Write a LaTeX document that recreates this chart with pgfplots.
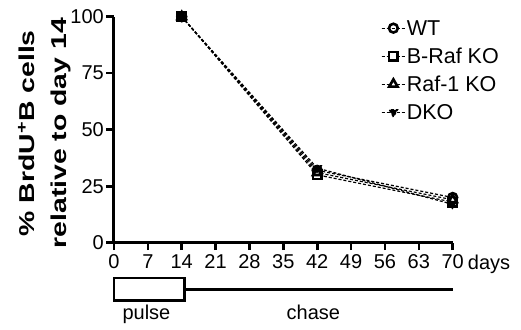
\documentclass[border=0pt]{standalone}
\usepackage{graphicx}
\usepackage{pgfplots}
\pgfplotsset{compat=1.18}
\usepackage{fontspec}
\setmainfont{Liberation Sans}
\newcommand{\lgf}{\fontsize{21.5}{24}\selectfont}
\begin{document}
\begin{tikzpicture}
\useasboundingbox (-114pt,-86.3pt) rectangle (407pt,242.7pt);
\begin{axis}[
  scale only axis, width=338.7pt, height=226pt,
  xmin=0, xmax=70, ymin=0, ymax=100,
  axis lines*=left, axis line style={line width=3pt},
  xtick={0,7,...,70}, ytick={0,25,50,75,100},
  tick align=outside, major tick length=7.5pt,
  tick style={line width=2.6pt, black},
  ticklabel style={font=\fontsize{20}{22}\selectfont},
  /pgf/number format/assume math mode=true,
  xticklabel style={inner sep=1pt, yshift=-3pt},
  yticklabel style={inner sep=1.5pt, xshift=-1pt},
  clip=false,
  ylabel={\scalebox{1.32}[1]{\% BrdU\textsuperscript{+}B cells}\\\scalebox{1.32}[1]{relative to day 14}},
  ylabel style={font=\bfseries\fontsize{21.5}{32}\selectfont, align=center, at={(axis description cs:-0.205,0.484)}, anchor=center},
  legend style={draw=none, fill=none, at={(axis description cs:0.788,0.99)}, anchor=north west,
    font=\lgf, row sep=10pt, inner sep=0pt, column sep=0pt,
    nodes={inner sep=1.5pt, text height=15pt, text depth=0pt}},
  legend cell align=left,
  legend image code/.code={
    \draw[densely dashed, line width=1pt] (0pt,0pt) -- (23pt,0pt);
    \draw[mark repeat=2, mark phase=2] plot coordinates {(0pt,0pt) (11.7pt,0pt) (23pt,0pt)};
  },
  every axis plot/.append style={black, line width=1.2pt, densely dashed, mark options={solid, line width=2.6pt, fill=white}},
]
\addplot[mark=o, mark size=4.4pt] coordinates {(14,100) (42,32) (70,20)};
\addlegendentry{WT}
\addplot[mark=square*, mark size=4.2pt] coordinates {(14,100) (42,30) (70,18)};
\addlegendentry{B-Raf KO}
\addplot[mark=triangle*, mark size=4.8pt] coordinates {(14,100) (42,31) (70,19)};
\addlegendentry{Raf-1 KO}
\addplot[mark=triangle*, mark size=4.8pt, mark options={rotate=180}] coordinates {(14,100) (42,33) (70,17)};
\addlegendentry{DKO}
\node[anchor=base west, font=\fontsize{20}{22}\selectfont, inner sep=0pt] at (axis cs:73.1,-12.0) {days};
\draw[line width=2.8pt] (axis cs:0,-15.6) rectangle (axis cs:14.6,-25.6);
\draw[line width=2.8pt] (axis cs:14.6,-20.6) -- (axis cs:70,-20.6);
\node[anchor=base, font=\fontsize{20}{22}\selectfont, inner sep=0pt] at (axis cs:6.7,-34) {pulse};
\node[anchor=base, font=\fontsize{20}{22}\selectfont, inner sep=0pt] at (axis cs:41.2,-34) {chase};
\end{axis}
\end{tikzpicture}
\end{document}
